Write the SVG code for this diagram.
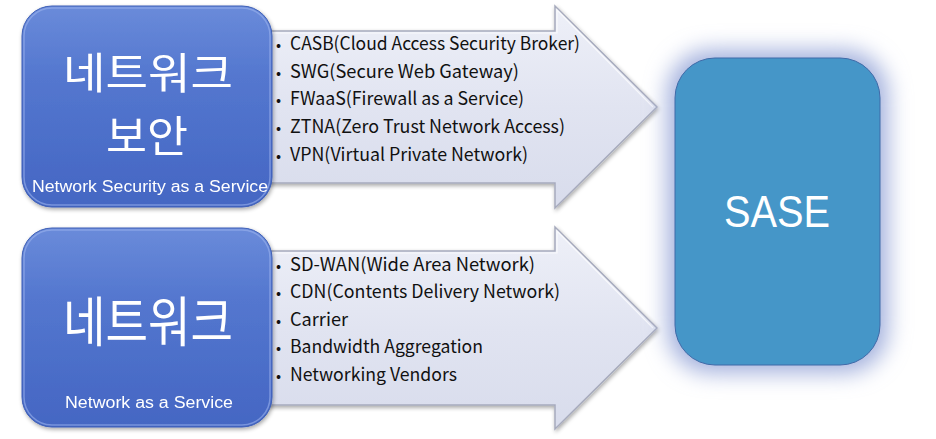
<svg xmlns="http://www.w3.org/2000/svg" width="936" height="439" viewBox="0 0 936 439">
<defs>
<linearGradient id="boxg" x1="0" y1="0" x2="0" y2="1">
<stop offset="0" stop-color="#6a8bda"/>
<stop offset="0.35" stop-color="#5477cf"/>
<stop offset="1" stop-color="#4466c3"/>
</linearGradient>
<linearGradient id="arrg" x1="0" y1="0" x2="0" y2="1">
<stop offset="0" stop-color="#eef0f8"/>
<stop offset="0.5" stop-color="#e1e4f1"/>
<stop offset="1" stop-color="#d8dcec"/>
</linearGradient>
<filter id="shadow" x="-10%" y="-10%" width="120%" height="125%">
<feGaussianBlur in="SourceAlpha" stdDeviation="2"/>
<feOffset dx="1" dy="2" result="b"/>
<feComponentTransfer><feFuncA type="linear" slope="0.35"/></feComponentTransfer>
<feMerge><feMergeNode/><feMergeNode in="SourceGraphic"/></feMerge>
</filter>
<filter id="glow" x="-30%" y="-30%" width="160%" height="160%">
<feGaussianBlur stdDeviation="11"/>
</filter>
</defs>
<style>
.box{fill:url(#boxg);stroke:#3e5fb6;stroke-width:1}
.bevel{fill:none;stroke:#9bb2ec;stroke-opacity:0.6;stroke-width:1.5}
.arrow{fill:url(#arrg);stroke:#a7abbd;stroke-width:1.5;stroke-linejoin:miter}
.arrowhi{fill:none;stroke:#ffffff;stroke-opacity:0.7;stroke-width:1.2}
.ko{font-family:"Noto Sans CJK KR","Noto Sans",sans-serif;fill:#ffffff;font-size:54px;text-anchor:middle}
.ko2{font-family:"Noto Sans CJK KR","Noto Sans",sans-serif;fill:#ffffff;font-size:43px;text-anchor:middle}
.sub{font-family:"Liberation Sans",Arial,sans-serif;fill:#ffffff;font-size:16px;text-anchor:middle}
.li{font-family:"Noto Sans CJK KR","Noto Sans",sans-serif;fill:#111111;font-size:18px}
.bul{font-size:15px}
.sase{font-family:"Liberation Sans",Arial,sans-serif;fill:#ffffff;font-size:44px;text-anchor:middle}
</style>
<rect width="936" height="439" fill="#ffffff"/>

<g id="connectors">
<g id="arrow-top" filter="url(#shadow)">
<path class="arrow" d="M262 31 L555 31 L555 6 L657 107 L555 208 L555 183 L262 183 Z"/>
<path class="arrowhi" d="M263 33 L557 33 L557 10 L653 107"/>
</g>
<g id="arrow-bottom" filter="url(#shadow)">
<path class="arrow" d="M262 251 L555 251 L555 227 L657 328 L555 429 L555 405 L262 405 Z"/>
<path class="arrowhi" d="M263 253 L557 253 L557 231 L653 328"/>
</g>
</g>

<g id="list-top">
<text class="li" x="276" y="50"><tspan class="bul">•</tspan><tspan x="290" textLength="290" lengthAdjust="spacingAndGlyphs">CASB(Cloud Access Security Broker)</tspan></text>
<text class="li" x="276" y="78"><tspan class="bul">•</tspan><tspan x="290" textLength="229" lengthAdjust="spacingAndGlyphs">SWG(Secure Web Gateway)</tspan></text>
<text class="li" x="276" y="105"><tspan class="bul">•</tspan><tspan x="290" textLength="234" lengthAdjust="spacingAndGlyphs">FWaaS(Firewall as a Service)</tspan></text>
<text class="li" x="276" y="133"><tspan class="bul">•</tspan><tspan x="290" textLength="275" lengthAdjust="spacingAndGlyphs">ZTNA(Zero Trust Network Access)</tspan></text>
<text class="li" x="276" y="161"><tspan class="bul">•</tspan><tspan x="290" textLength="238" lengthAdjust="spacingAndGlyphs">VPN(Virtual Private Network)</tspan></text>
</g>

<g id="list-bottom">
<text class="li" x="276" y="271"><tspan class="bul">•</tspan><tspan x="290" textLength="245" lengthAdjust="spacingAndGlyphs">SD-WAN(Wide Area Network)</tspan></text>
<text class="li" x="276" y="298"><tspan class="bul">•</tspan><tspan x="290" textLength="270" lengthAdjust="spacingAndGlyphs">CDN(Contents Delivery Network)</tspan></text>
<text class="li" x="276" y="326"><tspan class="bul">•</tspan><tspan x="290" textLength="58" lengthAdjust="spacingAndGlyphs">Carrier</tspan></text>
<text class="li" x="276" y="353"><tspan class="bul">•</tspan><tspan x="290" textLength="193" lengthAdjust="spacingAndGlyphs">Bandwidth Aggregation</tspan></text>
<text class="li" x="276" y="381"><tspan class="bul">•</tspan><tspan x="290" textLength="167" lengthAdjust="spacingAndGlyphs">Networking Vendors</tspan></text>
</g>

<g id="node-security" filter="url(#shadow)">
<rect class="box" x="22" y="6" width="250" height="201" rx="30"/>
<rect class="bevel" x="24" y="8" width="246" height="197" rx="28"/>
<text class="ko2" x="148" y="89" textLength="170" lengthAdjust="spacingAndGlyphs">네트워크</text>
<text class="ko2" x="147" y="152" textLength="82" lengthAdjust="spacingAndGlyphs">보안</text>
<text class="sub" x="150" y="192" textLength="236" lengthAdjust="spacingAndGlyphs">Network Security as a Service</text>
</g>

<g id="node-network" filter="url(#shadow)">
<rect class="box" x="22" y="228" width="250" height="199" rx="30"/>
<rect class="bevel" x="24" y="230" width="246" height="195" rx="28"/>
<text class="ko" x="148" y="342" textLength="170" lengthAdjust="spacingAndGlyphs">네트워크</text>
<text class="sub" x="149" y="408" textLength="168" lengthAdjust="spacingAndGlyphs">Network as a Service</text>
</g>

<g id="node-sase">
<rect x="667" y="50" width="221" height="323" rx="44" fill="#a3b0dd" filter="url(#glow)"/>
<rect x="675" y="58" width="205" height="307" rx="40" fill="#4596c8" stroke="#3f6aa8" stroke-width="1"/>
<text class="sase" x="777" y="227" textLength="106" lengthAdjust="spacingAndGlyphs">SASE</text>
</g>
</svg>
